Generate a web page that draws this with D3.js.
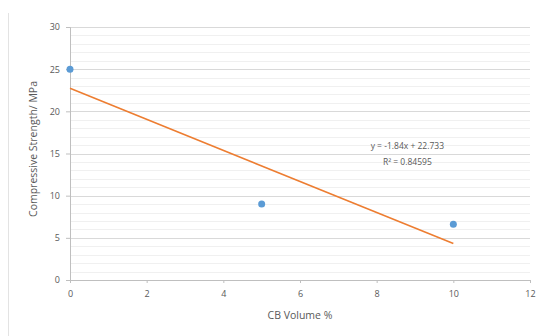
<!DOCTYPE html>
<html>
<head>
<meta charset="utf-8">
<script src="https://cdn.jsdelivr.net/npm/d3@7"></script>
<style>
  body { margin: 0; background: #fff; }
  text { font-family: "Open Sans", "Liberation Sans", sans-serif; fill: #595959; }
</style>
</head>
<body>
<div id="chart"></div>
<script>
const cbVolume = [0, 5, 10];
const strength = [25, 9, 6.6];
const xTicks = [0, 2, 4, 6, 8, 10, 12];
const yTicks = [0, 5, 10, 15, 20, 25, 30];
const yMinor = d3.range(0, 31, 1);
const eqText = "y = -1.84x + 22.733";
const r2Text = "R² = 0.84595";

const W = 547, H = 336;
const margin = {top: 27, right: 17, bottom: 56, left: 70};
const width = W - margin.left - margin.right;
const height = H - margin.top - margin.bottom;

const svg = d3.select("#chart")
  .append("svg")
  .attr("width", W)
  .attr("height", H);

// chart area border (left edge only visible)
svg.append("line")
  .attr("x1", 8.5).attr("x2", 8.5)
  .attr("y1", 13).attr("y2", H)
  .attr("stroke", "#e3e3e3");

const g = svg.append("g")
  .attr("transform", `translate(${margin.left},${margin.top})`);

const x = d3.scaleLinear().domain([0, 12]).range([0, width]);
const y = d3.scaleLinear().domain([0, 30]).range([height, 0]);

// minor gridlines
g.append("g")
  .selectAll("line")
  .data(yMinor.filter(v => v % 5 !== 0))
  .join("line")
  .attr("x1", 0).attr("x2", width)
  .attr("y1", d => Math.round(y(d)) + 0.5).attr("y2", d => Math.round(y(d)) + 0.5)
  .attr("stroke", "#f0f0f0");

// major gridlines
g.append("g")
  .selectAll("line")
  .data(yTicks.filter(v => v > 0))
  .join("line")
  .attr("x1", 0).attr("x2", width)
  .attr("y1", d => Math.round(y(d)) + 0.5).attr("y2", d => Math.round(y(d)) + 0.5)
  .attr("stroke", "#d9d9d9");

// axes
const yAxis = g.append("g")
  .call(d3.axisLeft(y).tickValues(yTicks).tickSize(4).tickPadding(6));
const xAxis = g.append("g")
  .attr("transform", `translate(0,${height})`)
  .call(d3.axisBottom(x).tickValues(xTicks).tickSize(3).tickPadding(8));

[xAxis, yAxis].forEach(a => {
  a.select(".domain").attr("stroke", "#bfbfbf");
  a.selectAll(".tick line").attr("stroke", "#bfbfbf");
  a.selectAll(".tick text")
    .attr("font-size", 9)
    .attr("fill", "#595959")
    .attr("font-family", "'Open Sans', 'Liberation Sans', sans-serif");
});

// linear trendline from the data (least squares)
const mx = d3.mean(cbVolume), my = d3.mean(strength);
const slope = d3.sum(cbVolume, (v, i) => (v - mx) * (strength[i] - my)) /
              d3.sum(cbVolume, v => (v - mx) * (v - mx));
const intercept = my - slope * mx;
const ext = d3.extent(cbVolume);

g.append("path")
  .datum(ext)
  .attr("d", d3.line().x(d => x(d)).y(d => y(slope * d + intercept)))
  .attr("stroke", "#ED7D31")
  .attr("stroke-width", 1.6)
  .attr("fill", "none");

// points
g.append("g")
  .selectAll("circle")
  .data(cbVolume)
  .join("circle")
  .attr("cx", d => x(d))
  .attr("cy", (d, i) => y(strength[i]))
  .attr("r", 3.5)
  .attr("fill", "#5B9BD5");

// equation labels
g.append("text")
  .attr("x", x(8.8)).attr("y", y(15.5))
  .attr("text-anchor", "middle")
  .attr("font-size", 8.5)
  .text(eqText);
g.append("text")
  .attr("x", x(8.8)).attr("y", y(13.6))
  .attr("text-anchor", "middle")
  .attr("font-size", 8.5)
  .text(r2Text);

// axis titles
svg.append("text")
  .attr("x", 300)
  .attr("y", 319)
  .attr("text-anchor", "middle")
  .attr("font-size", 10.5)
  .text("CB Volume %");

svg.append("text")
  .attr("transform", `translate(37,149) rotate(-90)`)
  .attr("text-anchor", "middle")
  .attr("font-size", 10.5)
  .text("Compressive Strength/ MPa");
</script>
</body>
</html>
